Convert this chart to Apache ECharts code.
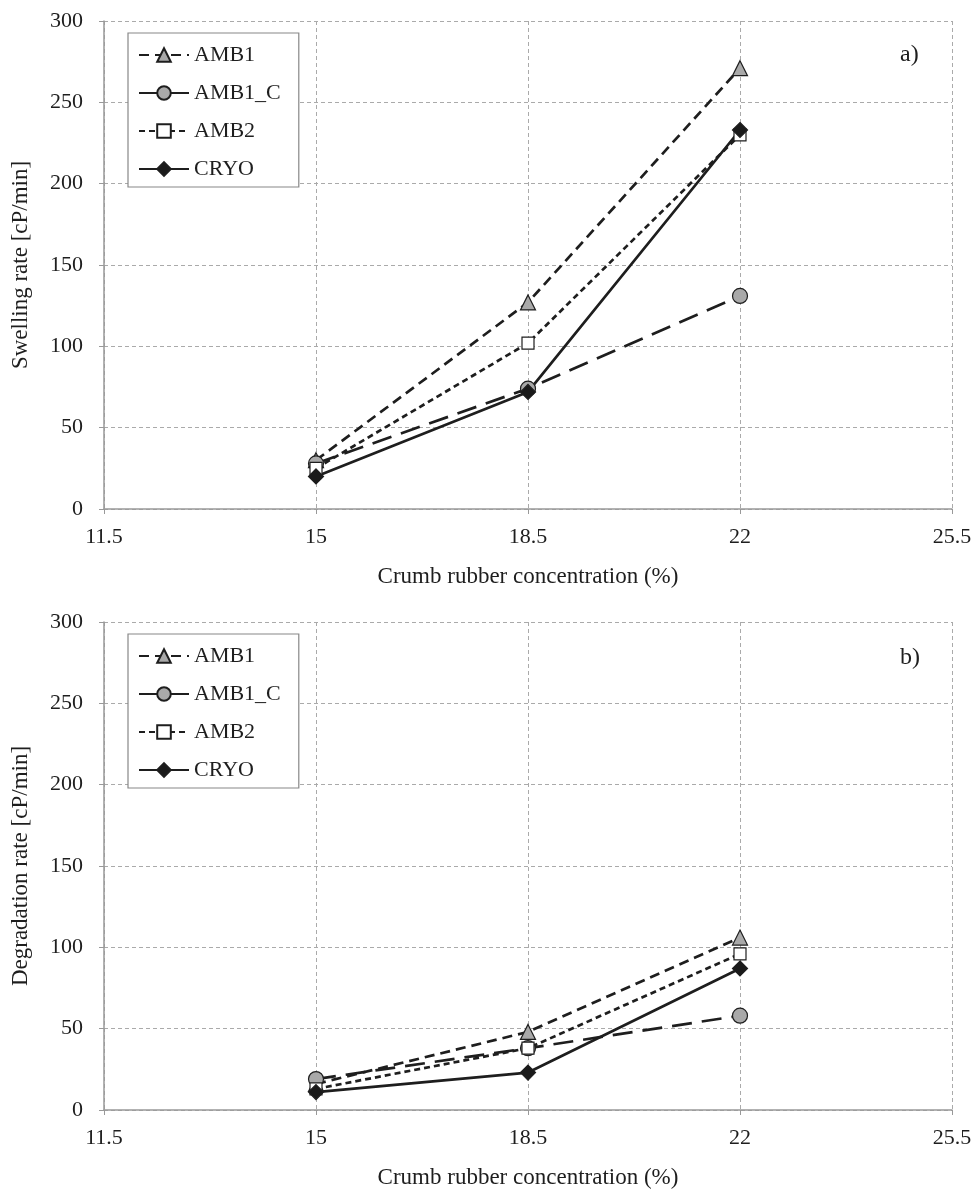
<!DOCTYPE html>
<html>
<head>
<meta charset="utf-8">
<script src="https://cdn.jsdelivr.net/npm/echarts@6/dist/echarts.min.js"></script>
<style>
html,body{margin:0;padding:0;background:#fff;}
#c{width:973px;height:1189px;}
</style>
</head>
<body>
<div id="c"></div>
<script>
const concentrations = [15, 18.5, 22];
const xTicks = [11.5, 15, 18.5, 22, 25.5];
const yTicks = [0, 50, 100, 150, 200, 250, 300];
const seriesNames = ['AMB1', 'AMB1_C', 'AMB2', 'CRYO'];

// Panel a) Swelling rate [cP/min]
const swellAMB1   = [30, 127, 271];
const swellAMB1C  = [28, 74, 131];
const swellAMB2   = [25, 102, 230];
const swellCRYO   = [20, 72, 233];

// Panel b) Degradation rate [cP/min]
const degAMB1  = [16, 48, 106];
const degAMB1C = [19, 38, 58];
const degAMB2  = [13, 38, 96];
const degCRYO  = [11, 23, 87];

const FONT = '"Liberation Serif", "Times New Roman", serif';
const INK = '#1e1e1e';

const styles = {
  'AMB1':   {symbol: 'triangle', size: 15, fill: '#a9a9a9', dash: [10, 6], lw: 2.7},
  'AMB1_C': {symbol: 'circle',   size: 15, fill: '#a9a9a9', dash: [20, 10], lw: 2.7},
  'AMB2':   {symbol: 'rect',     size: 12, fill: '#ffffff', dash: [6, 4], lw: 2.7},
  'CRYO':   {symbol: 'diamond',  size: 15, fill: '#1a1a1a', dash: 'solid', lw: 2.7}
};

function pairs(vals) { return concentrations.map((x, i) => [x, vals[i]]); }

function mkSeries(name, vals, idx) {
  const s = styles[name];
  return {
    name: name, type: 'line', xAxisIndex: idx, yAxisIndex: idx,
    data: pairs(vals), symbol: s.symbol, symbolSize: s.size,
    showAllSymbol: true,
    lineStyle: {color: INK, width: s.lw, type: s.dash},
    itemStyle: {color: s.fill, borderColor: INK, borderWidth: 1.2},
    emphasis: {disabled: true},
    z: 3
  };
}

const grids = [
  {left: 104, right: 21, top: 21, height: 488, outerBoundsMode: 'none', containLabel: false},
  {left: 104, right: 21, top: 622, height: 488, outerBoundsMode: 'none', containLabel: false}
];

function mkX(idx) {
  return {
    type: 'value', gridIndex: idx, min: 11.5, max: 25.5, interval: 3.5,
    name: 'Crumb rubber concentration (%)', nameLocation: 'middle', nameGap: 56,
    nameTextStyle: {fontFamily: FONT, fontSize: 23, color: INK},
    axisLine: {show: true, onZero: false, lineStyle: {color: '#999', width: 1.5}},
    axisTick: {show: true, inside: false, length: 5, lineStyle: {color: '#999'}},
    axisLabel: {fontFamily: FONT, fontSize: 22, color: INK, margin: 17,
      formatter: v => String(v)},
    splitLine: {show: true, lineStyle: {color: '#aaa', type: [4, 3], width: 1}}
  };
}
function mkY(idx, title) {
  return {
    type: 'value', gridIndex: idx, min: 0, max: 300, interval: 50,
    name: title, nameLocation: 'middle', nameGap: 72,
    nameTextStyle: {fontFamily: FONT, fontSize: 23, color: INK},
    axisLine: {show: true, lineStyle: {color: '#999', width: 1.5}},
    axisTick: {show: true, inside: false, length: 5, lineStyle: {color: '#999'}},
    axisLabel: {fontFamily: FONT, fontSize: 22, color: INK, margin: 21},
    splitLine: {show: true, lineStyle: {color: '#aaa', type: [4, 3], width: 1}}
  };
}

function mkLegend(top) {
  return {
    orient: 'vertical', left: 128, top: top,
    data: seriesNames,
    backgroundColor: '#fff',
    borderColor: '#888', borderWidth: 1.2,
    padding: [11, 18, 7, 10],
    itemGap: 16, itemWidth: 50, itemHeight: 17,
    textStyle: {fontFamily: FONT, fontSize: 22, color: INK},
    selectedMode: false
  };
}

const option = {
  animation: false,
  backgroundColor: '#fff',
  grid: grids,
  xAxis: [mkX(0), mkX(1)],
  yAxis: [mkY(0, 'Swelling rate [cP/min]'), mkY(1, 'Degradation rate [cP/min]')],
  legend: [mkLegend(33), mkLegend(634)],
  graphic: [
    {type: 'text', left: 900, top: 43, style: {text: 'a)', font: '24px ' + FONT, fill: INK}},
    {type: 'text', left: 900, top: 646, style: {text: 'b)', font: '24px ' + FONT, fill: INK}}
  ],
  series: [
    mkSeries('AMB1', swellAMB1, 0),
    mkSeries('AMB1_C', swellAMB1C, 0),
    mkSeries('AMB2', swellAMB2, 0),
    mkSeries('CRYO', swellCRYO, 0),
    mkSeries('AMB1', degAMB1, 1),
    mkSeries('AMB1_C', degAMB1C, 1),
    mkSeries('AMB2', degAMB2, 1),
    mkSeries('CRYO', degCRYO, 1)
  ]
};

const chart = echarts.init(document.getElementById('c'), null, {renderer: 'canvas'});
chart.setOption(option);
</script>
</body>
</html>
